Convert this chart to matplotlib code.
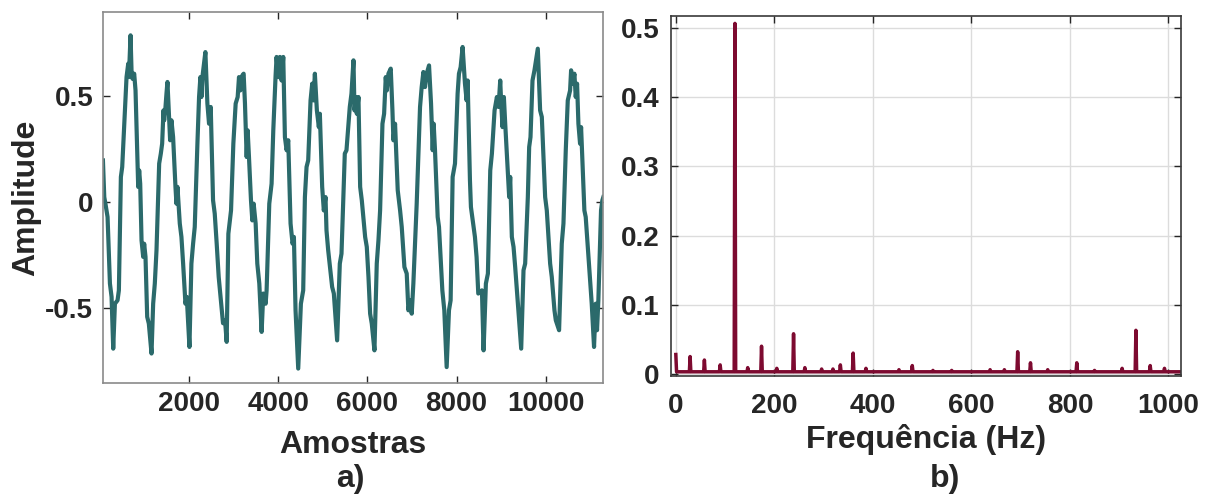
import matplotlib
matplotlib.use("Agg")
import matplotlib.pyplot as plt
import numpy as np

plt.rcParams['font.family'] = ['Liberation Sans', 'DejaVu Sans']
plt.rcParams['font.weight'] = 'bold'

# ---- panel a) time-domain signal (vertices read from the picture) ----
amostras = [58, 88, 117, 162, 215, 252, 289, 327, 386, 416, 461, 491, 551, 588, 611, 626, 641, 678, 700, 723,
            760, 790, 827, 850, 872, 895, 925, 962, 984, 1014, 1052, 1089, 1149, 1186, 1223, 1261, 1321, 1358,
            1388, 1418, 1433, 1463, 1485, 1507, 1545, 1567, 1597, 1634, 1687, 1709, 1732, 1784, 1821, 1859,
            1911, 1941, 2001, 2045, 2083, 2120, 2180, 2217, 2247, 2270, 2292, 2359, 2404, 2441, 2479, 2531,
            2569, 2613, 2658, 2755, 2800, 2837, 2875, 2935, 2987, 3039, 3084, 3114, 3144, 3189, 3218, 3248,
            3286, 3308, 3338, 3383, 3413, 3443, 3488, 3525, 3570, 3622, 3659, 3712, 3734, 3794, 3846, 3884,
            3936, 3958, 3996, 4033, 4070, 4108, 4145, 4183, 4220, 4272, 4317, 4347, 4384, 4444, 4504, 4556,
            4594, 4631, 4668, 4721, 4758, 4788, 4818, 4863, 4907, 4930, 4982, 5019, 5057, 5079, 5117, 5206,
            5244, 5318, 5378, 5416, 5490, 5528, 5602, 5640, 5685, 5708, 5738, 5760, 5797, 5835, 5872, 5947,
            5984, 6022, 6059, 6096, 6156, 6208, 6246, 6283, 6336, 6373, 6410, 6433, 6470, 6522, 6560, 6582,
            6619, 6679, 6732, 6769, 6829, 6881, 6918, 6956, 6993, 7030, 7105, 7180, 7217, 7255, 7292, 7329,
            7382, 7427, 7464, 7486, 7516, 7576, 7606, 7681, 7725, 7778, 7830, 7867, 7912, 7965, 8024, 8054,
            8092, 8136, 8189, 8226, 8249, 8301, 8323, 8413, 8450, 8488, 8570, 8607, 8659, 8704, 8757, 8794,
            8854, 8906, 8943, 8981, 9003, 9033, 9063, 9093, 9153, 9182, 9205, 9242, 9280, 9317, 9377, 9452,
            9504, 9541, 9601, 9631, 9661, 9706, 9750, 9825, 9877, 9915, 9990, 10027, 10102, 10139, 10199,
            10229, 10303, 10363, 10401, 10453, 10498, 10550, 10573, 10610, 10647, 10677, 10707, 10737, 10774,
            10797, 10871, 10901, 10983, 11036, 11088, 11125, 11155, 11185, 11245, 11275, 11297]
amplitude = [0.198, 0.025, -0.01, -0.069, -0.383, -0.446, -0.690, -0.478, -0.462, -0.415, 0.120, 0.167, 0.434,
             0.591, 0.631, 0.654, 0.591, 0.788, 0.623, 0.583, 0.607, 0.528, 0.246, 0.073, 0.151, 0.088, -0.179,
             -0.257, -0.195, -0.257, -0.540, -0.572, -0.713, -0.478, -0.383, -0.226, 0.183, 0.230, 0.277, 0.434,
             0.387, 0.450, 0.513, 0.568, 0.387, 0.293, 0.387, 0.308, 0.073, -0.006, 0.073, -0.100, -0.163,
             -0.289, -0.478, -0.446, -0.682, -0.289, -0.195, -0.116, 0.277, 0.497, 0.591, 0.497, 0.591, 0.709,
             0.466, 0.371, 0.450, 0.010, -0.053, -0.195, -0.352, -0.570, -0.556, -0.658, -0.148, -0.038, 0.277,
             0.466, 0.497, 0.591, 0.528, 0.599, 0.607, 0.466, 0.214, 0.340, 0.214, 0.010, -0.085, -0.006,
             -0.100, -0.289, -0.383, -0.611, -0.430, -0.478, -0.415, -0.006, 0.088, 0.340, 0.599, 0.686, 0.591,
             0.686, 0.575, 0.686, 0.308, 0.246, 0.293, -0.100, -0.195, -0.163, -0.509, -0.784, -0.478, -0.415,
             0.025, 0.167, 0.198, 0.481, 0.560, 0.481, 0.607, 0.434, 0.355, 0.418, 0.073, -0.038, 0.025,
             -0.132, -0.226, -0.399, -0.430, -0.651, -0.289, -0.242, 0.230, 0.246, 0.450, 0.513, 0.670, 0.434,
             0.497, 0.418, 0.497, 0.073, 0.010, -0.163, -0.210, -0.352, -0.525, -0.572, -0.698, -0.289, -0.179,
             -0.038, 0.371, 0.418, 0.591, 0.528, 0.607, 0.631, 0.434, 0.293, 0.371, 0.057, -0.038, -0.116,
             -0.305, -0.336, -0.509, -0.462, -0.525, -0.383, -0.006, 0.450, 0.544, 0.615, 0.544, 0.607, 0.646,
             0.466, 0.246, 0.371, 0.246, -0.069, -0.116, -0.415, -0.509, -0.777, -0.509, -0.462, 0.120, 0.183,
             0.513, 0.607, 0.638, 0.733, 0.560, 0.481, 0.575, 0.104, -0.022, -0.163, -0.258, -0.430, -0.415,
             -0.698, -0.383, -0.336, 0.151, 0.230, 0.434, 0.497, 0.450, 0.575, 0.466, 0.355, 0.497, 0.371,
             0.135, 0.025, 0.120, -0.163, -0.210, -0.305, -0.478, -0.690, -0.320, -0.289, 0.025, 0.261, 0.308,
             0.575, 0.623, 0.725, 0.434, 0.403, 0.025, -0.038, -0.289, -0.352, -0.509, -0.556, -0.603, -0.195,
             -0.100, 0.246, 0.481, 0.528, 0.623, 0.560, 0.607, 0.497, 0.560, 0.371, 0.277, 0.355, -0.038,
             -0.069, -0.320, -0.478, -0.682, -0.478, -0.603, -0.462, -0.038, 0.010, 0.025]

# ---- panel b) spectrum: spike frequencies and heights ----
nivel_base = 0.003
freq_picos = [0, 29, 58, 90, 120, 146, 174, 205, 239, 262, 296, 319, 334, 360, 386, 453, 480, 522, 560,
              638, 667, 694, 720, 755, 814, 850, 906, 934, 963, 992]
amp_picos = [0.028, 0.025, 0.020, 0.013, 0.507, 0.009, 0.040, 0.008, 0.058, 0.009, 0.007, 0.007, 0.013,
             0.030, 0.008, 0.006, 0.012, 0.005, 0.005, 0.006, 0.006, 0.032, 0.016, 0.006, 0.016, 0.005,
             0.008, 0.063, 0.012, 0.008]
freq_max = 1025

# build spectrum polyline from spike list
fx = [0.0]
fy = [amp_picos[0]]
for f, h in zip(freq_picos[1:], amp_picos[1:]):
    fx += [f - 1.5, f, f + 1.5]
    fy += [nivel_base, h, nivel_base]
fx = [0.0, 1.5] + fx[1:]
fy = [amp_picos[0], nivel_base] + fy[1:]
fx.append(freq_max)
fy.append(nivel_base)

cor_a = '#2b6a6b'
cor_b = '#7d0a30'
txt = '#262626'

fig = plt.figure(figsize=(12.11, 4.94), dpi=100)

# Panel a
ax1 = fig.add_axes([0.085, 0.2247, 0.413, 0.751])
ax1.plot(amostras, amplitude, color=cor_a, lw=3.0, solid_joinstyle='round')
ax1.set_xlim(58, 11291)
ax1.set_ylim(-0.852, 0.898)
ax1.set_xticks([2000, 4000, 6000, 8000, 10000])
ax1.set_yticks([-0.5, 0, 0.5])
ax1.set_yticklabels(['-0.5', '0', '0.5'])
ax1.tick_params(direction='in', top=True, right=True, labelsize=20, colors=txt, length=5, width=1)
ax1.tick_params(axis='x', pad=6)
ax1.tick_params(axis='y', pad=7)
for s in ax1.spines.values():
    s.set_color('#8a8a8a')
    s.set_linewidth(1.2)
for lab in ax1.get_xticklabels() + ax1.get_yticklabels():
    lab.set_fontweight('bold')
ax1.set_xlabel('Amostras', fontsize=23, fontweight='bold', color=txt, labelpad=9)
ax1.set_ylabel('Amplitude', fontsize=23, fontweight='bold', color=txt, labelpad=3)

# Panel b
ax2 = fig.add_axes([0.554, 0.239, 0.421, 0.729])
ax2.plot(fx, fy, color=cor_b, lw=2.5, solid_joinstyle='round')
ax2.set_xlim(-10, freq_max)
ax2.set_ylim(-0.003, 0.518)
ax2.set_xticks([0, 200, 400, 600, 800, 1000])
ax2.set_yticks([0, 0.1, 0.2, 0.3, 0.4, 0.5])
ax2.set_yticklabels(['0', '0.1', '0.2', '0.3', '0.4', '0.5'])
ax2.grid(True, color='#dcdcdc', lw=1)
ax2.set_axisbelow(True)
ax2.tick_params(direction='in', top=True, right=True, labelsize=20, colors=txt, length=5, width=1)
ax2.tick_params(axis='x', pad=12)
ax2.tick_params(axis='y', pad=8)
for s in ax2.spines.values():
    s.set_color('#3a3a3a')
    s.set_linewidth(1.2)
for lab in ax2.get_xticklabels() + ax2.get_yticklabels():
    lab.set_fontweight('bold')
ax2.set_xlabel('Frequência (Hz)', fontsize=23, fontweight='bold', color=txt, labelpad=4)

fig.text(0.289, 0.030, 'a)', fontsize=23, fontweight='bold', color=txt, ha='center', va='center')
fig.text(0.780, 0.030, 'b)', fontsize=23, fontweight='bold', color=txt, ha='center', va='center')

fig.savefig('out.png', dpi=100)
